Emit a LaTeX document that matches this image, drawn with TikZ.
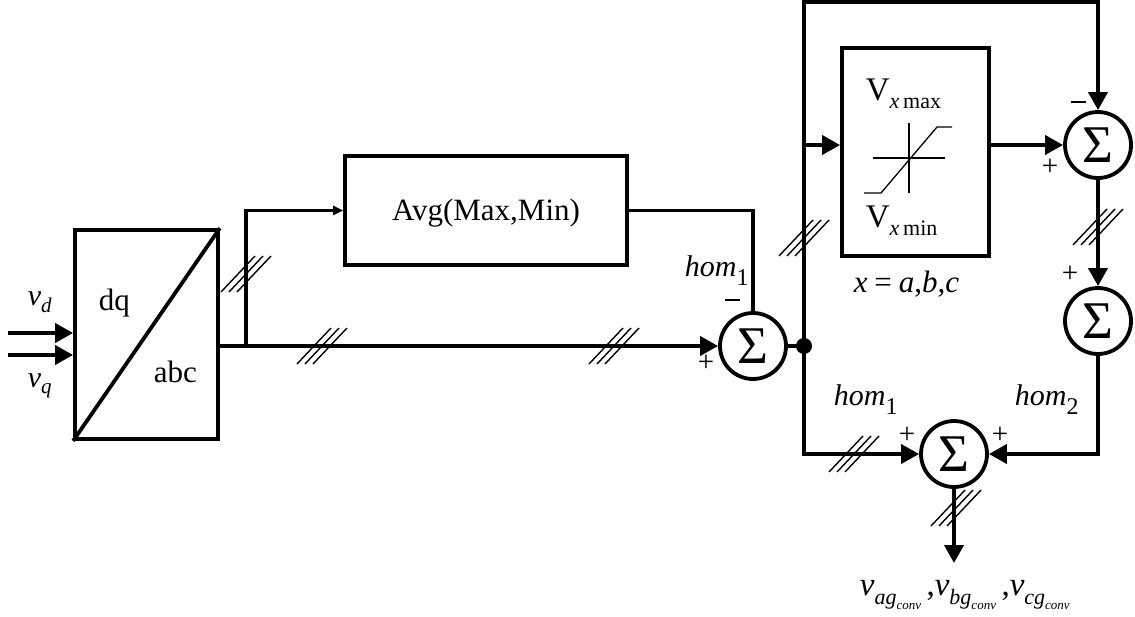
\documentclass[tikz,border=0pt]{standalone}
\usepackage{fontspec}
\setmainfont{Liberation Serif}
\usetikzlibrary{arrows.meta}
\newcommand\dn[3]{\raisebox{#1}{\fontsize{#2}{#2}\selectfont #3}}
\begin{document}
\begin{tikzpicture}[x=1pt,y=-1pt,
  line width=3.8pt,
  box/.style={draw, rectangle, line width=3.8pt, inner sep=0pt},
  sumn/.style={draw, circle, line width=3.8pt, minimum size=66pt, inner sep=0pt, font=\fontsize{53}{53}\selectfont},
  arr/.style={-{Triangle[length=18pt,width=19pt]}},
  smallarr/.style={-{Triangle[length=10pt,width=9pt]}},
  txt/.style={inner sep=0pt, anchor=base west},
  sgn/.style={inner sep=0pt, font=\fontsize{29}{29}\selectfont},
  thinl/.style={line width=1.3pt},
  hash/.pic={\foreach \d in {-8,0,8} \draw[line width=1.4pt] ({\d-17},18) -- ({\d+17},-18);}
]
\useasboundingbox (0,0) rectangle (1135,616);

% blocks
\node[box, minimum width=143pt, minimum height=209pt] (dq) at (146.5,334.5) {};
\draw (dq.south west) -- (dq.north east);
\node[box, minimum width=282pt, minimum height=109pt] (avg) at (486,210.5) {};
\node[box, minimum width=147pt, minimum height=208pt] (sat) at (915.5,152) {};

\node[sumn] (s1) at (753,346) {Σ};
\node[sumn] (s2) at (1098,145) {Σ};
\node[sumn] (s3) at (1098,321) {Σ};
\node[sumn] (s4) at (954,454) {Σ};

\coordinate (j) at (804,346);
\coordinate (tp) at (804,2);
\coordinate (br) at (246,346);
\coordinate (vd) at (8,333);
\coordinate (vq) at (8,355);
\coordinate (out) at (954,563);

% texts
\node[txt, font=\fontsize{31}{31}\selectfont] (ldq) at (97,310) {dq};
\node[txt, font=\fontsize{31}{31}\selectfont] (labc) at (152,382) {abc};
\node[inner sep=0pt, anchor=base, font=\fontsize{31}{31}\selectfont] (lavg) at (486,220) {Avg(Max,Min)};
\node[txt, font=\fontsize{30}{30}\selectfont] (lvd) at (26,305) {\itshape v\dn{-7pt}{21}{d}};
\node[txt, font=\fontsize{30}{30}\selectfont] (lvq) at (26,387) {\itshape v\dn{-6pt}{21}{q}};
\node[txt, font=\fontsize{30}{30}\selectfont] (lh1a) at (683,276) {\itshape hom\dn{-9pt}{24}{\upshape 1}};
\node[txt, font=\fontsize{30}{30}\selectfont] (lh1b) at (832,405) {\itshape hom\dn{-9pt}{24}{\upshape 1}};
\node[txt, font=\fontsize{30}{30}\selectfont] (lh2) at (1013,405) {\itshape hom\dn{-9pt}{24}{\upshape 2}};
\node[txt, font=\fontsize{31}{31}\selectfont] (lx) at (852,292) {\itshape x\hspace{0.22em}\upshape =\hspace{0.22em}\itshape a\upshape,\itshape b\upshape,\itshape c};
\node[txt, font=\fontsize{33}{33}\selectfont] (lvmax) at (864,100) {V\dn{-8pt}{22}{\itshape x\upshape\,max}};
\node[txt, font=\fontsize{33}{33}\selectfont] (lvmin) at (864,227) {V\dn{-8pt}{22}{\itshape x\upshape\,min}};
\node[txt, font=\fontsize{33}{33}\selectfont] (lout) at (858,595) {\itshape v\dn{-9pt}{22}{ag\dn{-5pt}{13}{conv}}\upshape\,,\itshape v\dn{-9pt}{22}{bg\dn{-5pt}{13}{conv}}\upshape\,,\itshape v\dn{-9pt}{22}{cg\dn{-5pt}{13}{conv}}};

% signs
\node[sgn] (m1) at (732,300) {\rule{15pt}{2.8pt}};
\node[sgn] (p1) at (706,363) {+};
\node[sgn] (m2) at (1078,102) {\rule{15pt}{2.8pt}};
\node[sgn] (p2) at (1050,167) {+};
\node[sgn] (p3) at (1070,274) {+};
\node[sgn] (p4) at (907,435) {+};
\node[sgn] (p5) at (1000,435) {+};

% saturation symbol
\draw[thinl] (873,158) -- (945,158);
\draw[thinl] (909,123) -- (909,193);
\draw[thinl] (864,193) -- (881,193) -- (937,127) -- (952,127);

% connectors
\draw[arr] (vd) -- (vd -| dq.west);
\draw[arr] (vq) -- (vq -| dq.west);
\draw[arr] (dq.east |- s1) -- (s1.west);
\draw[smallarr] (br) |- (avg.west);
\draw (avg.east) -| (s1.north);
\draw (s1.east) -- (j);
\fill (j) circle (8);
\draw[arr] (j) -- (tp) -| (s2.north);
\draw[arr] (j) |- (s4.west);
\draw[arr] (j |- s2) -- (sat.west |- s2);
\draw[arr] (sat.east |- s2) -- (s2.west);
\draw[arr] (s2.south) -- (s3.north);
\draw[arr] (s3.south) |- (s4.east);
\draw[arr] (s4.south) -- (out);

% bus marks
\pic at (246,274) {hash};
\pic at (322,346) {hash};
\pic at (614,346) {hash};
\pic at (804,238) {hash};
\pic at (1098,227) {hash};
\pic at (854,454) {hash};
\pic at (956,508) {hash};
\end{tikzpicture}
\end{document}
